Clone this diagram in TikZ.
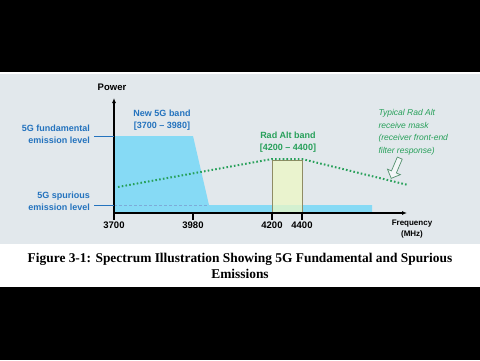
\documentclass[tikz,border=0pt]{standalone}
\usepackage{fontspec}
\setmainfont{Liberation Serif}
\setsansfont{Liberation Sans}
\usetikzlibrary{arrows.meta,shapes.arrows}
\definecolor{panel}{HTML}{E2E8EC}
\definecolor{bandblue}{HTML}{86DAF5}
\definecolor{lblblue}{HTML}{2473BE}
\definecolor{radgreen}{HTML}{27A05A}
\definecolor{radfill}{HTML}{EEF8C4}
\tikzset{
  lbl/.style={font=\sffamily\bfseries\fontsize{9}{12}\selectfont,align=center,inner sep=1pt},
  ticklbl/.style={font=\sffamily\bfseries\fontsize{9.5}{11}\selectfont,inner sep=1pt},
  mask/.style={radgreen,line width=2pt,dash pattern=on 1.6pt off 2.2pt}
}
\begin{document}
\begin{tikzpicture}[x=1pt,y=-1pt]
  \useasboundingbox (0,0) rectangle (480,360);
  \fill[black] (0,0) rectangle (480,72);
  \fill[black] (0,287) rectangle (480,360);
  \fill[panel] (0,74) rectangle (480,244);
  % 5G band and spurious floor
  \fill[bandblue] (114,213) -- (114,136) -- (193,136) -- (209,205) -- (372,205) -- (372,213) -- cycle;
  \draw[lblblue!60,densely dashed,thin] (114,205) -- (209,205);
  % rad alt band
  \draw[gray!70!olive,fill=radfill,fill opacity=0.75] (272,160) rectangle (302,213);
  % receive mask
  \draw[mask] (118,187) -- (272,159) -- (302,159) -- (408,185);
  % axes
  \coordinate (o) at (114,213);
  \coordinate (ytop) at (114,98);
  \coordinate (xend) at (407,213);
  \node[font=\sffamily\bfseries\fontsize{9.5}{11}\selectfont] (pow) at (112,87) {Power};
  \draw[line width=1.3pt,-{Latex[length=5pt,width=4pt]}] (o) -- (ytop);
  \draw[line width=1.3pt,-{Latex[length=5pt,width=4pt]}] (o) -- (xend);
  \foreach \x/\f in {114/3700,193/3980,272/4200,302/4400}{\draw[line width=1.3pt] (\x,213) -- ++(0,7) node[below,ticklbl] (f\f) {\f};}
  \node[font=\sffamily\bfseries\fontsize{8}{11}\selectfont,align=center] (freq) at (412,229) {Frequency\\(MHz)};
  % emission levels
  \coordinate (fund) at (114,136);
  \coordinate (spur) at (114,205);
  \node[lbl,lblblue,align=right,anchor=east] (fundlbl) at (91,134) {5G fundamental\\emission level};
  \node[lbl,lblblue,align=right,anchor=east] (spurlbl) at (91,201) {5G spurious\\emission level};
  \draw[lblblue,line width=1pt] (fundlbl.east |- fund) ++(3,0) -- (fund);
  \draw[lblblue,line width=1pt] (spurlbl.east |- spur) ++(3,0) -- (spur);
  \node[lbl,lblblue] (newband) at (162,120) {New 5G band\\{[3700 -- 3980]}};
  \node[lbl,radgreen] (radband) at (288,142) {Rad Alt band\\{[4200 -- 4400]}};
  \node[radgreen,font=\sffamily\itshape\fontsize{8.5}{12.5}\selectfont,align=left,anchor=north west] (masklbl) at (375,106) {Typical Rad Alt\\receive mask\\(receiver front-end\\filter response)};
  \node[single arrow,draw=gray!50!radgreen,line width=0.7pt,fill=panel!40,rotate=247,minimum height=22pt,minimum width=14pt,single arrow head extend=3pt,single arrow head indent=0pt,inner sep=1.5pt] (hint) at (396,167) {};
  % caption
  \node[font=\bfseries\fontsize{13.4}{16}\selectfont,align=center] (cap) at (240,266) {Figure 3-1: Spectrum Illustration Showing 5G Fundamental and Spurious\\Emissions};
\end{tikzpicture}
\end{document}
